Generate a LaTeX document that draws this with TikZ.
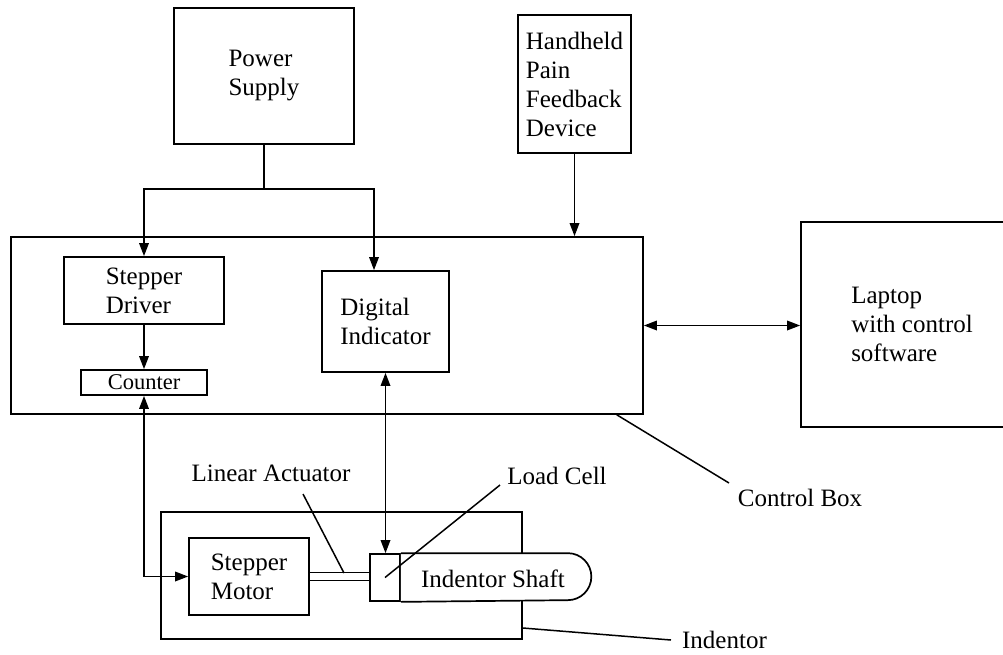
\documentclass[tikz,border=0pt]{standalone}
\usepackage{fontspec}
\setmainfont{Liberation Serif}
\usepackage{tikz}
\usetikzlibrary{arrows.meta, calc}

\tikzset{
  blk/.style={draw, inner sep=0pt, align=left},
  conn/.style={-{Triangle[length=13pt, width=9.5pt]}},
  both/.style={{Triangle[length=13pt, width=9.5pt]}-{Triangle[length=13pt, width=9.5pt]}},
  lead/.style={line width=1.5pt},
}

\begin{document}
\begin{tikzpicture}[x=1pt, y=-1pt, line width=1.7pt, font=\fontsize{25}{29}\selectfont]
  \useasboundingbox (0, 0) rectangle (1003, 654);
  \clip (0, 0) rectangle (1003, 654);

  \node[blk, minimum width=180pt, minimum height=136pt] (power) at (264, 76) {Power\\Supply};
  \node[blk, minimum width=113pt, minimum height=138pt] (hand) at (574.5, 84) {Handheld\\Pain\\Feedback\\Device};
  \node[blk, minimum width=632pt, minimum height=177pt] (ctrl) at (327, 325.5) {};
  \node[blk, minimum width=222pt, minimum height=205pt] (laptop) at (912, 324.5) {Laptop\\with control\\software};

  % inside the control box
  \node[blk, minimum width=160pt, minimum height=67pt] (driver) at (144, 290.5) {Stepper\\Driver};
  \node[blk, minimum width=126pt, minimum height=25pt, font=\fontsize{22.5}{26}\selectfont] (counter) at (144, 382.5) {Counter};
  \node[blk, minimum width=127pt, minimum height=101pt] (dial) at (385.5, 321.5) {Digital\\Indicator};

  % indentor
  \node[blk, minimum width=361pt, minimum height=127pt] (indentor) at (341.5, 575.5) {};
  \node[blk, minimum width=120pt, minimum height=77pt] (motor) at (249, 576.5) {Stepper\\Motor};
  \node[blk, minimum width=30pt, minimum height=47pt] (cell) at (385, 577.5) {};
  \draw[fill=white] (cell.north east) -- ++(167, 0) arc[start angle=-90, end angle=90, radius=23.5] -- (cell.south east);
  \node (shaft) at (493, 579) {Indentor Shaft};
  \draw ([yshift=4pt]motor.east) -- ([yshift=4pt]motor.east -| cell.west);
  \draw ([yshift=-4pt]motor.east) -- ([yshift=-4pt]motor.east -| cell.west);

  % power and signals
  \coordinate (bus) at (264, 189);
  \draw (power.south) -- (bus);
  \draw[conn] (bus) -| (driver.north);
  \draw[conn] (bus) -| ($(dial.north)+(-11.5, 0)$);
  \draw[conn] (hand.south) -- (hand.south |- ctrl.north);
  \draw[both] (ctrl.east) -- (ctrl.east -| laptop.west);
  \draw[conn] (driver.south) -- (counter.north);
  \draw[both] (counter.south) |- (motor.west);
  \draw[both] (dial.south) -- (dial.south |- cell.north);

  % labels
  \node (actlbl) at (271, 473) {Linear Actuator};
  \node (celllbl) at (557, 476) {Load Cell};
  \node (boxlbl) at (800, 498) {Control Box};
  \node (indlbl) at (724.5, 640) {Indentor};

  \coordinate (rod) at (344, 573);
  \coordinate (rodtag) at (303, 494);
  \coordinate (celltag) at (500, 485);
  \coordinate (boxtag) at (729, 483);
  \coordinate (indtag) at (671, 640);
  \draw[lead] (rodtag) -- (rod);
  \draw[lead] (cell.center) -- (celltag);
  \draw[lead] ($(ctrl.south east)+(-27, 0)$) -- (boxtag);
  \draw[lead] ($(indentor.east)+(0, 52.5)$) -- (indtag);
\end{tikzpicture}
\end{document}
